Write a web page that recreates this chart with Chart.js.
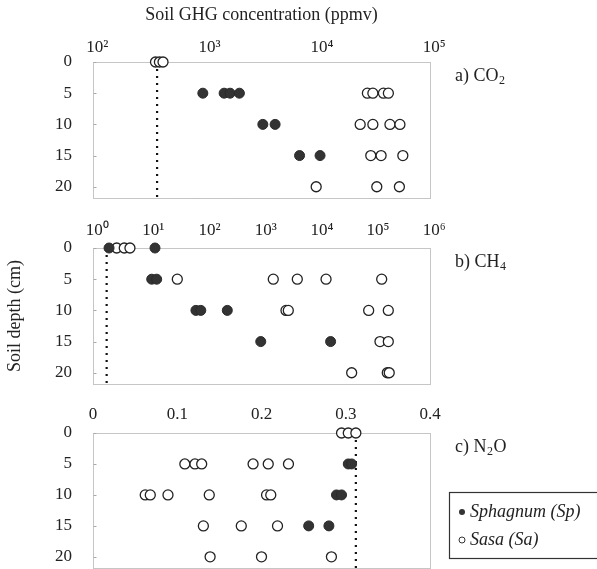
<!DOCTYPE html>
<html>
<head>
<meta charset="utf-8">
<script src="https://cdn.jsdelivr.net/npm/chart.js@4.4.1/dist/chart.umd.min.js"></script>
<style>
  html, body { margin: 0; padding: 0; background: #fff; overflow: hidden; }
  #wrap { position: relative; width: 597px; height: 569px; overflow: hidden; }
  canvas { position: absolute; left: 0; }
</style>
</head>
<body>
<div id="wrap">
  <canvas id="co2-chart" width="597" height="205" style="top:0"></canvas>
  <canvas id="ch4-chart" width="597" height="186" style="top:205px"></canvas>
  <canvas id="n2o-chart" width="597" height="186" style="top:389px"></canvas>
</div>
<script>
// depth axis (cm) and tick labels
const depthTicks = [0, 5, 10, 15, 20];
const depthMax = 21.8;
const co2Ticks = [1e2, 1e3, 1e4, 1e5];
const ch4Ticks = [1e0, 1e1, 1e2, 1e3, 1e4, 1e5, 1e6];
const n2oTicks = [0, 0.1, 0.2, 0.3, 0.4];
const seriesNames = ['Sphagnum (Sp)', 'Sasa (Sa)'];

// [depth, concentration ppmv]
const co2Sphagnum = [[5, 950], [5, 1470], [5, 1660], [5, 2010], [10, 3250], [10, 4180], [15, 6900], [15, 10500]];
const co2Sasa = [[0, 360], [0, 390], [0, 420], [5, 27700], [5, 31000], [5, 38500], [5, 42600],
    [10, 23900], [10, 31000], [10, 44000], [10, 54000], [15, 29700], [15, 36700], [15, 57300],
    [20, 9700], [20, 33600], [20, 53400]];
const co2Ambient = 372;

const ch4Sphagnum = [[0, 1.93], [0, 12.7], [5, 11.1], [5, 13.6], [10, 68], [10, 83], [10, 246], [15, 970], [15, 17000]];
const ch4Sasa = [[0, 2.64], [0, 3.6], [0, 4.55], [5, 31.7], [5, 1620], [5, 4340], [5, 14100], [5, 138000],
    [10, 2730], [10, 3000], [10, 80900], [10, 181000], [15, 128600], [15, 181000],
    [20, 40300], [20, 173600], [20, 188000]];
const ch4Ambient = 1.75;

const n2oSphagnum = [[5, 0.303], [5, 0.307], [10, 0.289], [10, 0.295], [15, 0.256], [15, 0.280]];
const n2oSasa = [[0, 0.295], [0, 0.303], [0, 0.312], [5, 0.109], [5, 0.121], [5, 0.129], [5, 0.190], [5, 0.208], [5, 0.232],
    [10, 0.062], [10, 0.068], [10, 0.089], [10, 0.138], [10, 0.206], [10, 0.211],
    [15, 0.131], [15, 0.176], [15, 0.219], [20, 0.139], [20, 0.200], [20, 0.283]];
const n2oAmbient = 0.312;

const serif = "'Liberation Serif', 'Times New Roman', serif";
const SUP = { '0': '⁰', '1': '¹', '2': '²', '3': '³', '4': '⁴', '5': '⁵', '6': '⁶' };

// leading en space nudges the "10" base onto the tick, superscript hangs right
function powLabel(v) {
    const e = Math.round(Math.log10(v));
    return '\u2002' + '10' + String(e).split('').map(c => SUP[c]).join('');
}

function toPoints(pairs) {
    return pairs.map(([d, v]) => ({ x: v, y: d }));
}

// dotted frame, small inner ticks, panel label and (optionally) the legend
const panelDecor = {
    id: 'panelDecor',
    beforeDatasetsDraw(chart, args, opts) {
        const { ctx, chartArea: a } = chart;
        ctx.save();
        ctx.strokeStyle = '#8c8c8c';
        ctx.lineWidth = 1;
        ctx.setLineDash([1, 1]);
        const l = Math.round(a.left) + 0.5, t = Math.round(a.top) + 0.5;
        ctx.strokeRect(l, t, Math.round(a.right - a.left), Math.round(a.bottom - a.top));
        ctx.setLineDash([]);
        ctx.strokeStyle = '#aaa';
        depthTicks.forEach(d => {
            const py = Math.round(chart.scales.y.getPixelForValue(d)) + 0.5;
            ctx.beginPath();
            ctx.moveTo(l, py);
            ctx.lineTo(l + 3, py);
            ctx.stroke();
        });
        ctx.restore();
    },
    afterDraw(chart, args, opts) {
        const { ctx, chartArea: a } = chart;
        ctx.save();
        ctx.fillStyle = '#222';
        ctx.textBaseline = 'middle';
        ctx.textAlign = 'left';
        // panel label with subscript, e.g. "c) N" + "2" + "O"
        const ly = a.top + 14;
        let x = 455;
        ctx.font = `18px ${serif}`;
        ctx.fillText(opts.label, x, ly);
        x += ctx.measureText(opts.label).width + 0.5;
        ctx.font = `12px ${serif}`;
        ctx.fillText(opts.sub, x, ly + 5);
        x += ctx.measureText(opts.sub).width + 0.5;
        if (opts.tail) {
            ctx.font = `18px ${serif}`;
            ctx.fillText(opts.tail, x, ly);
        }

        if (opts.legend) {
            const top = 492 - 389;
            ctx.strokeStyle = '#333';
            ctx.lineWidth = 1.2;
            ctx.strokeRect(449.5, top + 0.5, 160, 66);
            ctx.font = `italic 18px ${serif}`;
            const rows = [top + 20, top + 48];
            seriesNames.forEach((name, i) => {
                ctx.beginPath();
                ctx.arc(462, rows[i], 3, 0, Math.PI * 2);
                if (i === 0) {
                    ctx.fillStyle = '#333';
                    ctx.fill();
                } else {
                    ctx.fillStyle = '#fff';
                    ctx.fill();
                    ctx.lineWidth = 1;
                    ctx.strokeStyle = '#333';
                    ctx.stroke();
                }
                ctx.fillStyle = '#222';
                ctx.fillText(name, 470, rows[i]);
            });
        }
        ctx.restore();
    },
};

function renderPanel(canvasId, cfg) {
    const canvas = document.getElementById(canvasId);
    const ctx = canvas.getContext('2d');
    const tickFont = { family: serif, size: 17 };

    return new Chart(ctx, {
        type: 'scatter',
        data: {
            datasets: [
                {
                    label: seriesNames[0],
                    data: toPoints(cfg.sphagnum),
                    pointRadius: 5,
                    pointBackgroundColor: '#333',
                    pointBorderColor: '#2a2a2a',
                    pointBorderWidth: 1,
                    clip: false,
                    order: 1,
                },
                {
                    label: seriesNames[1],
                    data: toPoints(cfg.sasa),
                    pointRadius: 5,
                    pointBackgroundColor: '#fff',
                    pointBorderColor: '#222',
                    pointBorderWidth: 1.3,
                    clip: false,
                    order: 2,
                },
                {
                    type: 'line',
                    label: 'ambient',
                    data: [{ x: cfg.ambient, y: 0 }, { x: cfg.ambient, y: depthMax }],
                    borderColor: '#111',
                    borderWidth: 2.2,
                    borderDash: [2, 5],
                    pointRadius: 0,
                    fill: false,
                    order: 3,
                },
            ],
        },
        options: {
            responsive: false,
            animation: false,
            events: [],
            layout: { padding: { left: 0, right: 167, top: 0, bottom: cfg.padBottom } },
            plugins: {
                legend: { display: false },
                tooltip: { enabled: false },
                panelDecor: { label: cfg.label, sub: cfg.sub, tail: cfg.tail, legend: !!cfg.legend },
            },
            scales: {
                x: {
                    type: cfg.log ? 'logarithmic' : 'linear',
                    position: 'top',
                    min: cfg.ticks[0],
                    max: cfg.ticks[cfg.ticks.length - 1],
                    afterBuildTicks: s => { s.ticks = cfg.ticks.map(v => ({ value: v })); },
                    afterFit: s => {
                        s.height = cfg.topH;
                        s.paddingLeft = 0;
                        s.paddingRight = 0;
                    },
                    grid: { display: false, drawTicks: false },
                    border: { display: false },
                    ticks: {
                        font: tickFont,
                        color: '#222',
                        padding: cfg.tickPad,
                        maxRotation: 0,
                        autoSkip: false,
                        callback: v => cfg.log ? powLabel(v) : String(v),
                    },
                    title: {
                        display: !!cfg.xTitle,
                        text: cfg.xTitle || '',
                        font: { family: serif, size: 18 },
                        color: '#222',
                        padding: { top: 4, bottom: 0 },
                    },
                },
                y: {
                    type: 'linear',
                    reverse: true,
                    min: 0,
                    max: depthMax,
                    afterBuildTicks: s => { s.ticks = depthTicks.map(v => ({ value: v })); },
                    afterFit: s => {
                        s.width = 93;
                        s.paddingTop = 0;
                        s.paddingBottom = 0;
                    },
                    grid: { display: false, drawTicks: false },
                    border: { display: false },
                    ticks: { font: tickFont, color: '#222', padding: 21 },
                    title: {
                        display: !!cfg.yTitle,
                        text: cfg.yTitle || '',
                        font: { family: serif, size: 18 },
                        color: '#222',
                        padding: { top: 4, bottom: 0 },
                    },
                },
            },
        },
        plugins: [panelDecor],
    });
}

renderPanel('co2-chart', {
    sphagnum: co2Sphagnum, sasa: co2Sasa, ambient: co2Ambient,
    log: true, ticks: co2Ticks, topH: 62, padBottom: 7, tickPad: 4,
    xTitle: 'Soil GHG concentration (ppmv)', label: 'a) CO', sub: '2',
});

renderPanel('ch4-chart', {
    sphagnum: ch4Sphagnum, sasa: ch4Sasa, ambient: ch4Ambient,
    log: true, ticks: ch4Ticks, topH: 43, padBottom: 7, tickPad: 7,
    yTitle: 'Soil depth (cm)', label: 'b) CH', sub: '4',
});

renderPanel('n2o-chart', {
    sphagnum: n2oSphagnum, sasa: n2oSasa, ambient: n2oAmbient,
    log: false, ticks: n2oTicks, topH: 44, padBottom: 7, tickPad: 8,
    label: 'c) N', sub: '2', tail: 'O', legend: true,
});
</script>
</body>
</html>
